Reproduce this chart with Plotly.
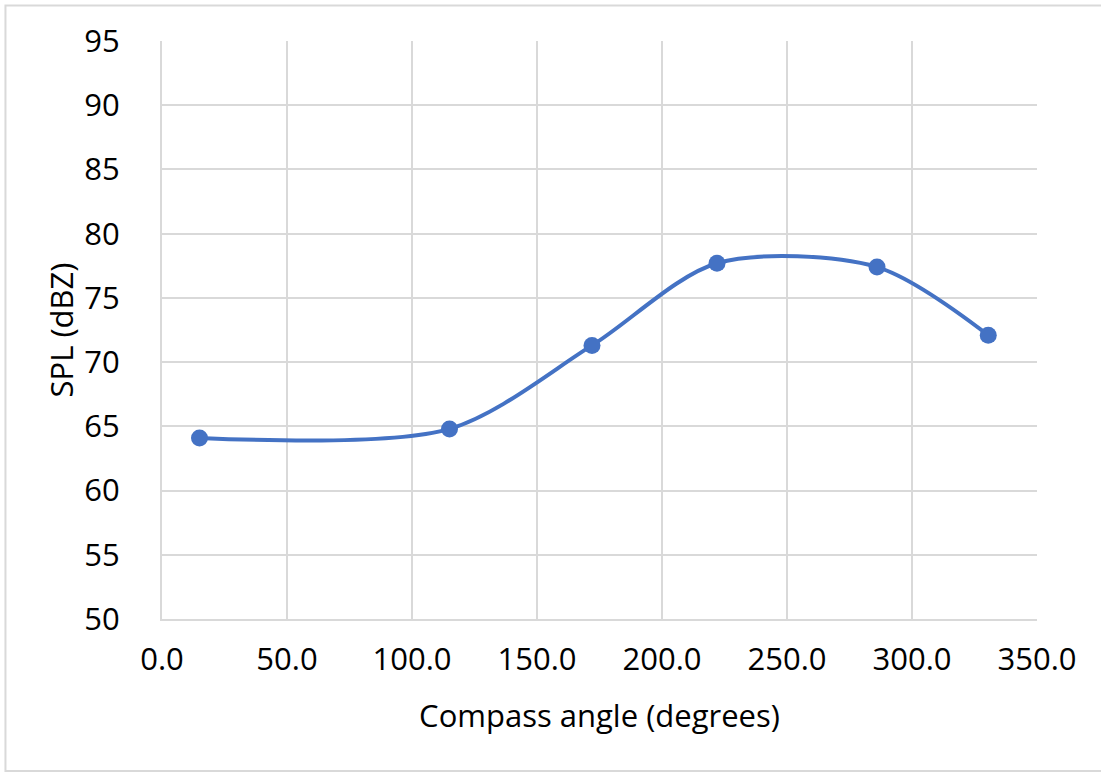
import plotly.graph_objects as go

# Measured sound pressure level at each compass heading
compass_angle = [15, 115, 172, 222, 286, 330.5]
spl_dbz = [64.1, 64.8, 71.3, 77.7, 77.4, 72.1]

x_ticks = [0, 50, 100, 150, 200, 250, 300, 350]
y_ticks = [50, 55, 60, 65, 70, 75, 80, 85, 90, 95]

FONT = "Open Sans"
BLUE = "#4472C4"
GRID = "#D9D9D9"
SIZE = 31

fig = go.Figure()
fig.add_trace(go.Scatter(
    x=compass_angle,
    y=spl_dbz,
    mode="lines+markers",
    line=dict(color=BLUE, width=4, shape="spline", smoothing=0.85),
    marker=dict(color=BLUE, size=17),
    showlegend=False,
))

# Outer chart frame
fig.add_shape(type="rect", xref="paper", yref="paper",
              x0=-0.1789, x1=1.08, y0=-0.263, y1=1.0614,
              line=dict(color="#D9D9D9", width=2), fillcolor="rgba(0,0,0,0)",
              layer="below")

fig.update_layout(
    width=1101, height=772,
    margin=dict(l=162, r=64, t=41, b=153),
    paper_bgcolor="white",
    plot_bgcolor="white",
    font=dict(family=FONT, color="#000000", size=SIZE),
    xaxis=dict(
        range=[0, 350], tickvals=x_ticks, tickformat=".1f",
        showgrid=True, gridcolor=GRID, gridwidth=2,
        showline=True, linecolor=GRID, linewidth=2,
        zeroline=False, ticks="", ticklabelstandoff=12,
        tickfont=dict(size=SIZE, family=FONT),
        title=dict(text="Compass angle (degrees)", font=dict(size=SIZE, family=FONT), standoff=27),
    ),
    yaxis=dict(
        range=[50, 95], tickvals=y_ticks,
        showgrid=True, gridcolor=GRID, gridwidth=2,
        showline=True, linecolor=GRID, linewidth=2,
        zeroline=False, ticks="", ticklabelstandoff=34,
        tickfont=dict(size=SIZE, family=FONT),
        title=dict(text="SPL (dBZ)", font=dict(size=SIZE, family=FONT), standoff=1),
    ),
)

fig.write_html("out.html")
